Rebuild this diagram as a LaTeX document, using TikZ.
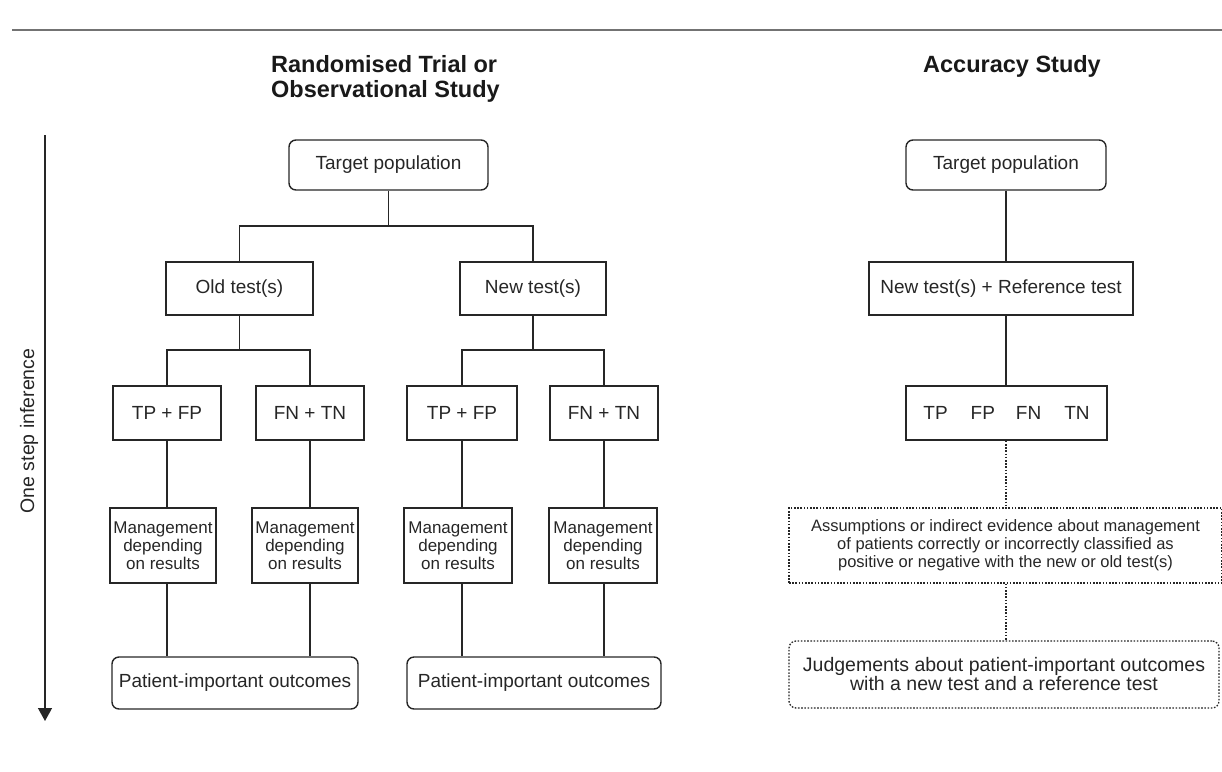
\documentclass[tikz,border=0pt]{standalone}
\usepackage{fontspec}
\setmainfont{Liberation Sans}
\usetikzlibrary{arrows.meta}
\begin{document}
\begin{tikzpicture}[x=1pt,y=-1pt,
  txt/.style={font=\fontsize{19}{18}\selectfont,text=black!85},
  mtxt/.style={font=\fontsize{17}{18}\selectfont},
  sqbox/.style={draw=black!85,line width=1.4pt,inner sep=0pt,align=center,txt},
  rbox/.style={sqbox,rounded corners=7pt},
  dotbox/.style={sqbox,dash pattern=on 1.6pt off 1.6pt,line width=1.3pt},
  conn/.style={draw=black!85,line width=1.4pt},
  dotconn/.style={conn,dash pattern=on 1.6pt off 1.6pt,line width=1.3pt},
  ttl/.style={font=\bfseries\fontsize{23.5}{25}\selectfont,text=black!90}
]
\useasboundingbox (0,0) rectangle (1222,771);

% top rule
\coordinate (rl) at (12,30);
\coordinate (rr) at (1222,30);
\draw[black!55,line width=1.6pt] (rl) -- (rr);

% titles
\node[ttl,align=left,anchor=north west,inner sep=0pt] (t1) at (271,55) {Randomised Trial or\\Observational Study};
\node[ttl,inner sep=0pt] (t2) at (1012,66) {Accuracy Study};

% inference arrow
\coordinate (at) at (45,135);
\coordinate (ab) at (45,721);
\draw[black!85,line width=1.4pt,-{Triangle[length=13pt,width=14pt]}] (at) -- (ab);
\node[txt,font=\fontsize{19.5}{20}\selectfont,rotate=90,inner sep=0pt] (inf) at (29,431) {One step inference};

% left diagram
\node[rbox,minimum width=199pt,minimum height=50pt] (tp) at (388.5,165) {Target population};
\node[sqbox,minimum width=147pt,minimum height=53pt] (old) at (239.5,288.5) {Old test(s)};
\node[sqbox,minimum width=146pt,minimum height=53pt] (new) at (533,288.5) {New test(s)};
\node[sqbox,minimum width=108pt,minimum height=54pt] (a1) at (167,413) {TP + FP};
\node[sqbox,minimum width=108pt,minimum height=54pt] (b1) at (310,413) {FN + TN};
\node[sqbox,minimum width=110pt,minimum height=54pt] (a2) at (462,413) {TP + FP};
\node[sqbox,minimum width=108pt,minimum height=54pt] (b2) at (604,413) {FN + TN};
\node[sqbox,mtxt,minimum width=106pt,minimum height=75pt] (m1) at (163,545.5) {Management\\depending\\on results};
\node[sqbox,mtxt,minimum width=106pt,minimum height=75pt] (m2) at (305,545.5) {Management\\depending\\on results};
\node[sqbox,mtxt,minimum width=108pt,minimum height=75pt] (m3) at (458,545.5) {Management\\depending\\on results};
\node[sqbox,mtxt,minimum width=108pt,minimum height=75pt] (m4) at (603,545.5) {Management\\depending\\on results};
\node[rbox,minimum width=246pt,minimum height=52pt] (p1) at (235,683) {Patient-important outcomes};
\node[rbox,minimum width=254pt,minimum height=52pt] (p2) at (534,683) {Patient-important outcomes};

\coordinate (j0) at (388.5,226);
\draw[conn] (tp.south) -- (j0);
\draw[conn] (j0) -| (old.north);
\draw[conn] (j0) -| (new.north);
\coordinate (j1) at (239.5,350);
\draw[conn] (old.south) -- (j1);
\draw[conn] (j1) -| (a1.north);
\draw[conn] (j1) -| (b1.north);
\coordinate (j2) at (533,350);
\draw[conn] (new.south) -- (j2);
\draw[conn] (j2) -| (a2.north);
\draw[conn] (j2) -| (b2.north);
\draw[conn] (a1.south) -- (a1.south |- m1.north);
\draw[conn] (b1.south) -- (b1.south |- m2.north);
\draw[conn] (a2.south) -- (a2.south |- m3.north);
\draw[conn] (b2.south) -- (b2.south |- m4.north);
\draw[conn] (a1.south |- m1.south) -- (a1.south |- p1.north);
\draw[conn] (b1.south |- m2.south) -- (b1.south |- p1.north);
\draw[conn] (a2.south |- m3.south) -- (a2.south |- p2.north);
\draw[conn] (b2.south |- m4.south) -- (b2.south |- p2.north);

% right diagram
\node[rbox,minimum width=200pt,minimum height=50pt] (rtp) at (1006,165) {Target population};
\node[sqbox,minimum width=264pt,minimum height=53pt] (rnt) at (1001,288.5) {New test(s) + Reference test};
\node[sqbox,minimum width=201pt,minimum height=54pt] (rtn) at (1006.5,413) {TP\hspace{23pt}FP\hspace{21pt}FN\hspace{23pt}TN};
\node[dotbox,minimum width=433pt,minimum height=75pt,font=\fontsize{16.5}{18}\selectfont] (ras) at (1005.5,545.5) {Assumptions or indirect evidence about management\\of patients correctly or incorrectly classified as\\positive or negative with the new or old test(s)};
\node[dotbox,rounded corners=7pt,minimum width=430pt,minimum height=67pt,font=\fontsize{19.5}{19}\selectfont] (rjd) at (1004,674.5) {Judgements about patient-important outcomes\\with a new test and a reference test};

\draw[conn] (rtp.south) -- (rtp.south |- rnt.north);
\draw[conn] (rnt.south -| rtp.south) -- (rtp.south |- rtn.north);
\draw[dotconn] (rtn.south -| rtp.south) -- (rtp.south |- ras.north);
\draw[dotconn] (ras.south -| rtp.south) -- (rtp.south |- rjd.north);
\end{tikzpicture}
\end{document}
